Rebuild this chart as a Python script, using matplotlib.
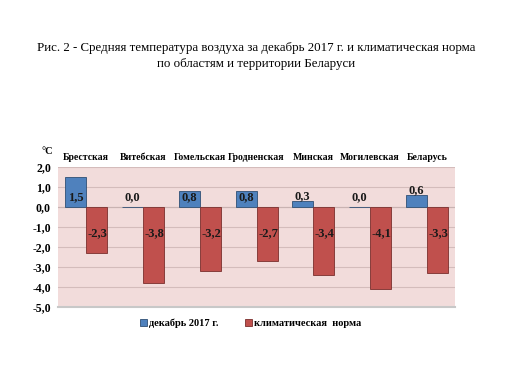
import matplotlib
matplotlib.use("Agg")
import matplotlib.pyplot as plt
import numpy as np

categories = ["Брестская", "Витебская", "Гомельская", "Гродненская", "Минская", "Могилевская", "Беларусь"]
dec2017 = [1.5, 0.0, 0.8, 0.8, 0.3, 0.0, 0.6]
norm = [-2.3, -3.8, -3.2, -2.7, -3.4, -4.1, -3.3]
yticks = [2, 1, 0, -1, -2, -3, -4, -5]

plt.rcParams['font.family'] = ['Liberation Serif', 'DejaVu Serif']

fig = plt.figure(figsize=(5.12, 3.84), dpi=100)
fig.patch.set_facecolor('white')
ax = fig.add_axes([0.113, 0.201, 0.776, 0.364])
ax.set_facecolor('#f2dcdb')

x = np.arange(len(categories))
w = 0.37
blue = '#4f81bd'
red = '#c0504d'
b1 = ax.bar(x - w/2, dec2017, w, color=blue, edgecolor='#2f4f74', linewidth=0.6, zorder=3, label='декабрь 2017 г.')
b2 = ax.bar(x + w/2, norm, w, color=red, edgecolor='#7a2f2d', linewidth=0.6, zorder=3, label='климатическая  норма')

def fmt(v):
    return f"{v:.1f}".replace('.', ',')

for xi, v in zip(x, dec2017):
    y = 0.5 if v >= 0.7 else max(0.5, v + 0.25)
    ax.text(xi - w/2, y, fmt(v), ha='center', va='center', fontsize=9, fontweight='bold', color='#1a1a1a', zorder=4)
for xi, v in zip(x, norm):
    ax.text(xi + w/2 + 0.02, -1.3, fmt(v), ha='center', va='center', fontsize=9, fontweight='bold', color='#1a1a1a', zorder=4)

ax.set_xlim(-0.5, len(categories) - 0.5)
ax.set_ylim(-5, 2)
ax.set_yticks(yticks)
ax.set_yticklabels([fmt(t) for t in yticks], fontsize=8.5, fontweight='bold')
ax.yaxis.grid(True, color='#d4bcbb', linewidth=0.8, zorder=0)
ax.set_axisbelow(True)
ax.set_xticks([])
ax.tick_params(axis='y', length=0, pad=5)
for s in ['top', 'right', 'left']:
    ax.spines[s].set_visible(False)
ax.spines['bottom'].set_color('#c8c8c8')
ax.spines['bottom'].set_linewidth(1.5)
ax.axhline(0, color='#c9b3b2', linewidth=0.8, zorder=1)

for xi, c in zip(x, categories):
    ax.text(xi, 2.25, c, ha='center', va='bottom', fontsize=7, fontweight='bold', clip_on=False)
ax.text(-0.68, 2.55, '°C', ha='center', va='bottom', fontsize=7.5, fontweight='bold', clip_on=False)

fig.text(0.5, 0.876, 'Рис. 2 - Средняя температура воздуха за декабрь 2017 г. и климатическая норма',
         ha='center', va='center', fontsize=9.3)
fig.text(0.5, 0.834, 'по областям и территории Беларуси', ha='center', va='center', fontsize=9.3)

leg = fig.legend(handles=[b1, b2], loc='center', bbox_to_anchor=(0.49, 0.158), ncol=2, frameon=False,
                 prop={'size': 7.5, 'weight': 'bold'}, handlelength=0.7, handleheight=0.7,
                 handletextpad=0.2, columnspacing=2.5)

fig.savefig('out.png', dpi=100, facecolor='white')
